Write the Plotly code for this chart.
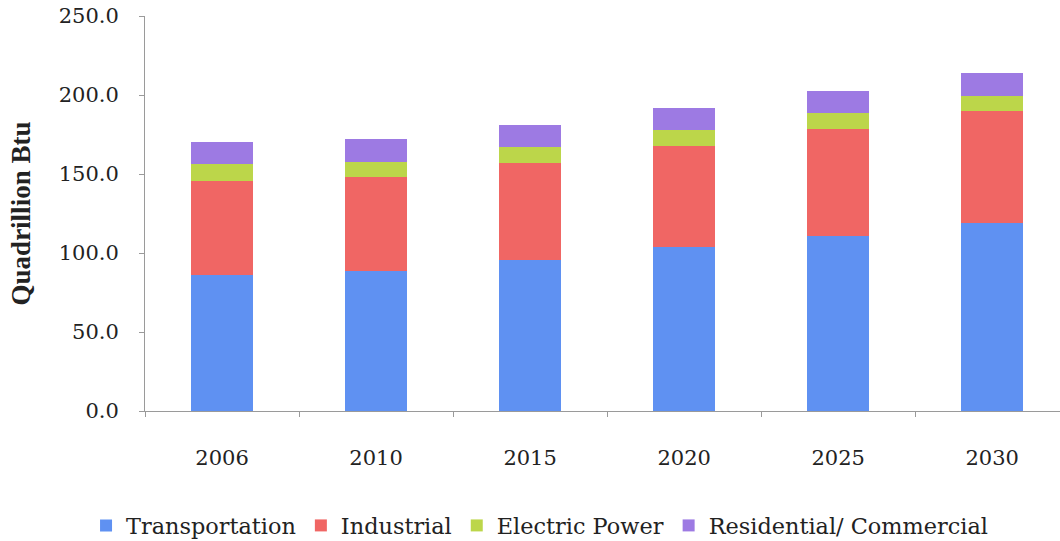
import plotly.graph_objects as go

# Delivered energy consumption by end-use sector, quadrillion Btu
years = ["2006", "2010", "2015", "2020", "2025", "2030"]
transportation = [86.1, 88.8, 95.6, 103.6, 111.0, 119.2]
industrial = [59.5, 59.1, 61.6, 64.3, 67.5, 70.5]
electric_power = [10.7, 9.9, 10.1, 9.9, 9.9, 9.7]
residential_commercial = [14.1, 14.4, 13.7, 14.2, 14.1, 14.3]

y_ticks = [0, 50, 100, 150, 200, 250]
y_tick_labels = ["0.0", "50.0", "100.0", "150.0", "200.0", "250.0"]

series = [
    ("Transportation", transportation, "#5f91f2"),
    ("Industrial", industrial, "#f06664"),
    ("Electric Power", electric_power, "#bcd64a"),
    ("Residential/ Commercial", residential_commercial, "#9d7ae3"),
]

fig = go.Figure()
for name, values, color in series:
    fig.add_trace(go.Bar(
        x=years, y=values, name=name,
        marker=dict(color=color, line=dict(width=0)),
        width=0.4,
    ))

fig.update_layout(
    barmode="stack",
    width=1060, height=541,
    margin=dict(l=145, r=0, t=16, b=130, autoexpand=False),
    paper_bgcolor="white", plot_bgcolor="white",
    font=dict(family="DejaVu Serif", size=21, color="#222222"),
    showlegend=True,
    legend=dict(
        orientation="h",
        xref="container", x=0.509, xanchor="center",
        yref="container", y=0.028, yanchor="middle",
        font=dict(family="DejaVu Serif", size=22.4, color="#222222"),
        itemwidth=30, traceorder="normal",
    ),
)
fig.update_xaxes(
    type="category", range=[-0.5, 5.44],
    showline=True, linecolor="#9a9a9a", linewidth=1,
    ticks="outside", tickson="boundaries", ticklen=5, tickcolor="#9a9a9a",
    ticklabelstandoff=28,
    showgrid=False, tickfont=dict(size=21),
)
fig.update_yaxes(
    range=[0, 250], tickvals=y_ticks, ticktext=y_tick_labels,
    showline=True, linecolor="#9a9a9a", linewidth=1,
    ticks="outside", ticklen=5, tickcolor="#9a9a9a",
    ticklabelstandoff=16,
    showgrid=False, zeroline=False, tickfont=dict(size=21),
    title=dict(text="<b>Quadrillion Btu</b>", standoff=20,
               font=dict(family="Liberation Serif", size=27, color="#222222")),
)

fig.write_html("out.html")
